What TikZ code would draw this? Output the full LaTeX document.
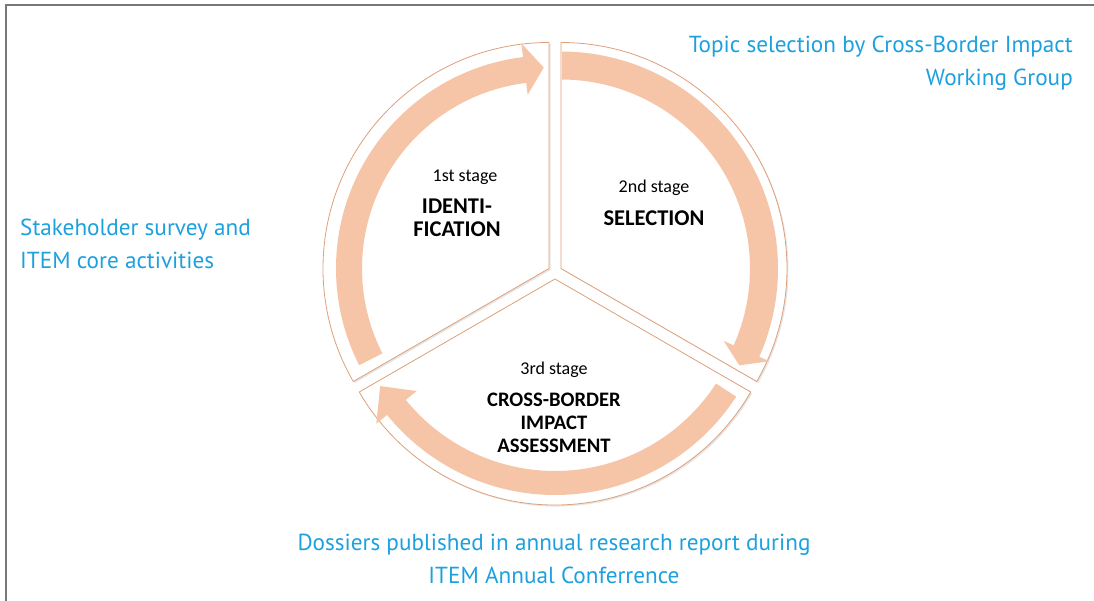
\documentclass[tikz,border=0pt]{standalone}
\usepackage{fontspec}
\usepackage{xcolor}
\usepackage{tikz}
\usetikzlibrary{positioning,shadows}
\setmainfont{Carlito}
\newfontfamily\notefont{PT Sans}
\definecolor{peach}{RGB}{246,197,168}
\definecolor{rim}{RGB}{221,160,122}
\definecolor{itemblue}{RGB}{28,160,222}
\definecolor{framegray}{RGB}{120,120,120}

\begin{document}
\begin{tikzpicture}[x=1pt, y=1pt,
    sector/.style={draw=rim, line width=0.8pt, fill=white, drop shadow={opacity=0.2, shadow xshift=1.5pt, shadow yshift=-1.5pt}},
    band/.style={fill=peach},
    stagetxt/.style={inner sep=0pt, anchor=base, font=\fontsize{18}{20}\selectfont},
    titletxt/.style={inner sep=0pt, align=center, font=\fontsize{20.6}{23}\selectfont\bfseries},
    bigtitle/.style={titletxt, font=\fontsize{22.5}{23}\selectfont\bfseries},
    note/.style={inner sep=0pt, text=itemblue, font=\notefont\fontsize{23.2}{33}\selectfont}]
    \useasboundingbox (-555,-329) rectangle (539,272);
    \draw[framegray, line width=2pt] (-549,-329) -- (-549,267) -- (539,267);

    \begin{scope}[shift={(-6,3.5)}]
    \draw[sector] (0,0) -- (90:226) arc[start angle=90, end angle=210, radius=226] -- cycle;
    \fill[band] (207:213) arc[start angle=207, end angle=97, radius=213] -- (97:227) -- (91.5:201) -- (97:175) -- (97:187) arc[start angle=97, end angle=207, radius=187] -- cycle;
    \end{scope}

    \begin{scope}[shift={(6,3.5)}]
    \draw[sector] (0,0) -- (90:226) arc[start angle=90, end angle=-30, radius=226] -- cycle;
    \fill[band] (89.7:217) arc[start angle=89.7, end angle=-24, radius=217] -- (-24:228) -- (-28.5:203) -- (-24:178) -- (-24:189) arc[start angle=-24, end angle=89.7, radius=189] -- cycle;
    \end{scope}

    \begin{scope}[shift={(0,-7)}]
    \draw[sector] (0,0) -- (-30:226) arc[start angle=-30, end angle=-150, radius=226] -- cycle;
    \fill[band] (-33:216) arc[start angle=-33, end angle=-141, radius=216] -- (-141:230) -- (-148.5:205) -- (-141:178) -- (-141:192) arc[start angle=-141, end angle=-33, radius=192] -- cycle;
    \end{scope}

    \node[stagetxt] (stage1) at (-90,90.5) {1st stage};
    \node[bigtitle, below=14pt of stage1, xshift=-8pt] (title1) {IDENTI-\\FICATION};

    \node[stagetxt] (stage2) at (99,79) {2nd stage};
    \node[bigtitle, below=14pt of stage2] (title2) {SELECTION};

    \node[stagetxt] (stage3) at (-1,-103) {3rd stage};
    \node[titletxt, below=14pt of stage3] (title3) {CROSS-BORDER\\IMPACT\\ASSESSMENT};

    \node[note, anchor=north east, align=right] (topic) at (518,236) {Topic selection by Cross-Border Impact\\Working Group};
    \node[note, anchor=north west, align=left] (survey) at (-535,53) {Stakeholder survey and\\ITEM core activities};
    \node[note, anchor=north, align=center] (dossier) at (-1,-262) {Dossiers published in annual research report during\\ITEM Annual Conferrence};
\end{tikzpicture}
\end{document}
